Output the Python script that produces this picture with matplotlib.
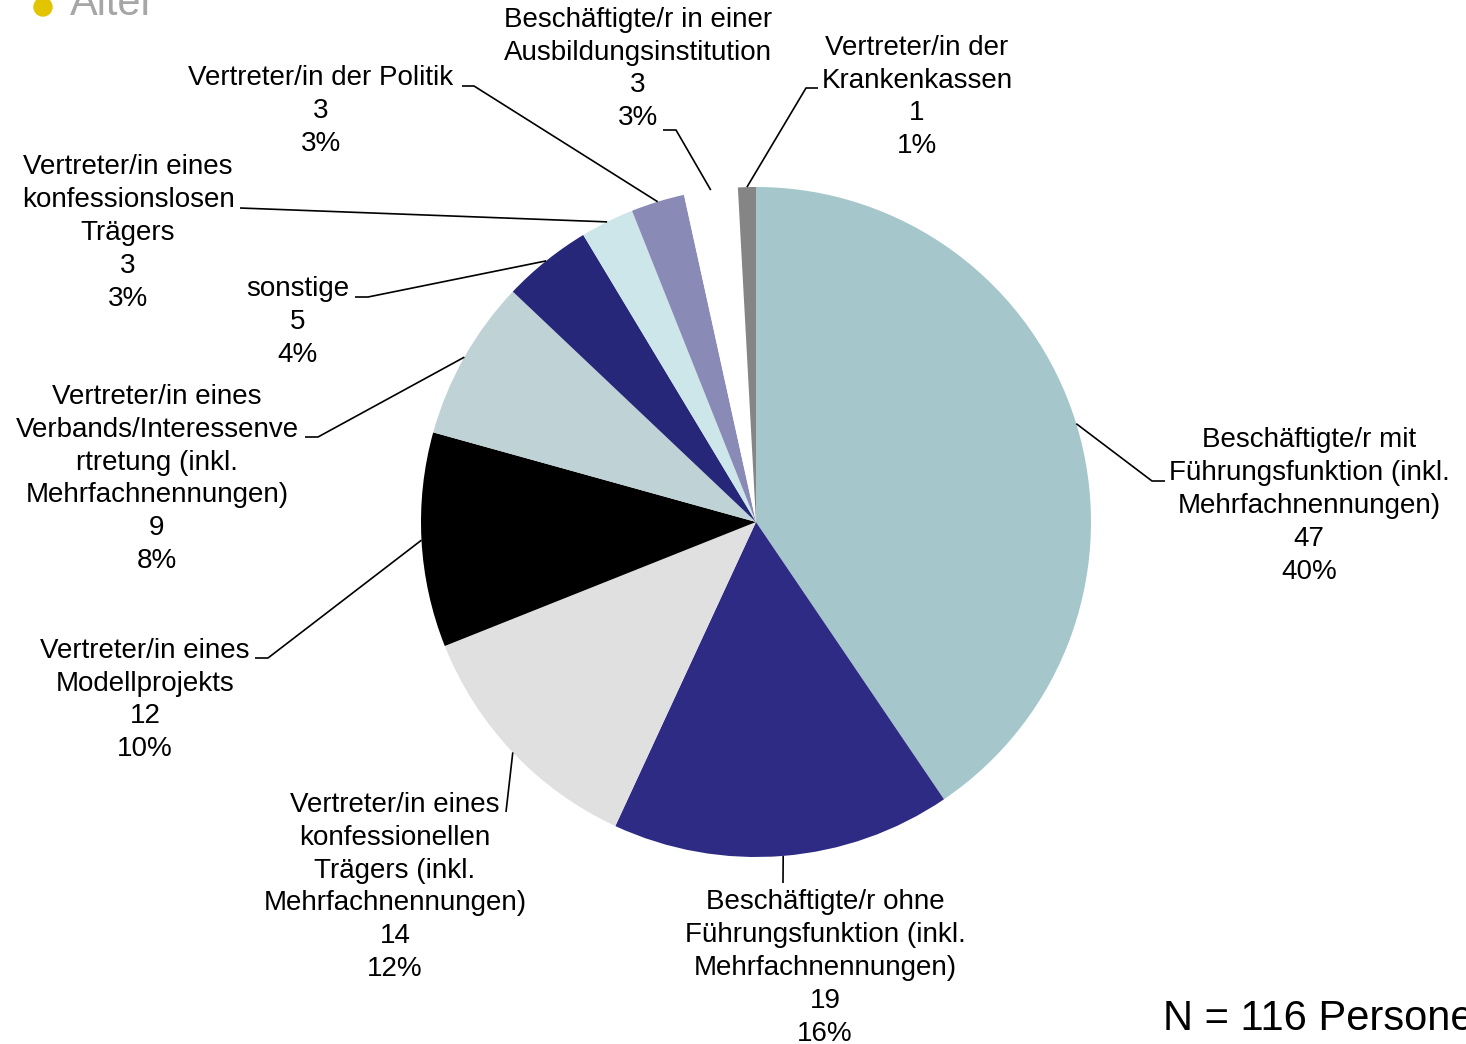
import numpy as np
import matplotlib.pyplot as plt

W, H = 1466, 1044

names = [
    'Beschäftigte/r mit\nFührungsfunktion (inkl.\nMehrfachnennungen)',
    'Beschäftigte/r ohne\nFührungsfunktion (inkl.\nMehrfachnennungen)',
    'Vertreter/in eines\nkonfessionellen\nTrägers (inkl.\nMehrfachnennungen)',
    'Vertreter/in eines\nModellprojekts',
    'Vertreter/in eines\nVerbands/Interessenve\nrtretung (inkl.\nMehrfachnennungen)',
    'sonstige',
    'Vertreter/in eines\nkonfessionslosen\nTrägers',
    'Vertreter/in der Politik',
    'Beschäftigte/r in einer\nAusbildungsinstitution',
    'Vertreter/in der\nKrankenkassen',
]
counts = [47, 19, 14, 12, 9, 5, 3, 3, 3, 1]
percents = [40, 16, 12, 10, 8, 4, 3, 3, 3, 1]

colors = ['#a5c6ca', '#2e2b84', '#e0e0e0', '#000000', '#bfd2d6',
          '#27277a', '#cde6ea', '#8a8ab6', '#ffffff', '#858585']

# label layout in pixel coords: text centre, then leader path (knee, end)
label_pos = [(1309, 506), (825, 968), (395, 887), (145, 700), (157, 479),
             (298, 322), (128, 233), (321, 111), (638, 69), (917, 97)]
leader = [[(1152, 481), (1165, 481)],
          [(783, 883)],
          [(506, 812)],
          [(268, 658), (255, 658)],
          [(318, 437), (305, 437)],
          [(368, 297), (355, 297)],
          [(240, 208)],
          [(474, 86), (462, 86)],
          [(676, 130), (663, 130)],
          [(806, 88), (818, 88)]]

cx, cy, R = 756, 522, 335


def Y(py):
    return H - py


fig = plt.figure(figsize=(W / 100, H / 100), dpi=100)
ax = fig.add_axes([0, 0, 1, 1])

wedges, _ = ax.pie(counts, colors=colors, startangle=90, counterclock=False,
                   center=(cx, Y(cy)), radius=R,
                   wedgeprops=dict(linewidth=0))

ax.set_xlim(0, W)
ax.set_ylim(0, H)
ax.set_aspect('equal')
ax.axis('off')

font = 'Liberation Sans'

for i, w in enumerate(wedges):
    mid = np.deg2rad((w.theta1 + w.theta2) / 2)
    x0 = cx + R * np.cos(mid)
    y0 = Y(cy) + R * np.sin(mid)
    xs = [x0] + [p[0] for p in leader[i]]
    ys = [y0] + [Y(p[1]) for p in leader[i]]
    ax.plot(xs, ys, color='black', lw=1.2, solid_capstyle='butt')

    txt = '%s\n%d\n%d%%' % (names[i], counts[i], percents[i])
    tx, ty = label_pos[i]
    ax.text(tx, Y(ty), txt, ha='center', va='center', multialignment='center',
            fontsize=20, family=font, linespacing=1.34)

# top-left bullet remnant and N note
ax.add_patch(plt.Circle((43, Y(7)), 9, color='#e2c400', clip_on=False))
ax.text(70, Y(15), 'Alter', fontsize=30, family=font, color='#a6a6a6',
        va='baseline', ha='left')
ax.text(1163, Y(1030), 'N = 116 Personen', fontsize=30, family=font,
        color='black', va='baseline', ha='left')

fig.savefig('out.png', dpi=100)
